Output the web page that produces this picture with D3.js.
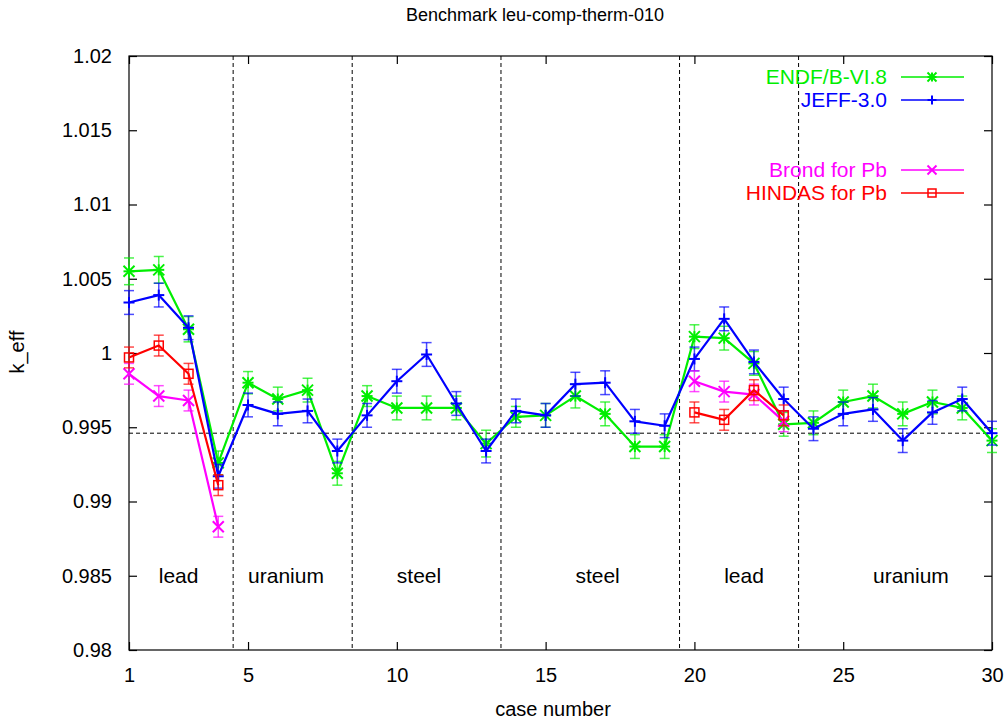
<!DOCTYPE html>
<html>
<head>
<meta charset="utf-8">
<script src="https://cdn.jsdelivr.net/npm/d3@7"></script>
<style>
  html, body { margin: 0; padding: 0; background: #fff; }
  svg { display: block; font-family: "Liberation Sans", Arial, Helvetica, sans-serif; }
</style>
</head>
<body>
<svg id="chart" width="1007" height="720"></svg>
<script>
// ---------------- data ----------------
const cases = [1,2,3,4,5,6,7,8,9,10,11,12,13,14,15,16,17,18,19,20,21,22,23,24,25,26,27,28,29,30];

const endfValues = [1.0055,1.0056,1.0016,0.9926,0.9980,0.9969,0.9975,0.9919,0.9971,0.9963,
                    0.9963,0.9963,0.9939,0.9957,0.9958,0.9971,0.9959,0.9937,0.9937,1.0011,
                    1.0010,0.9993,0.9952,0.9953,0.9967,0.9971,0.9959,0.9967,0.9963,0.9941];
const endfErrors = [0.0009,0.0009,0.00085,0.0008,0.00075,0.0008,0.0008,0.0008,0.0007,0.0008,
                    0.0008,0.0008,0.0009,0.0007,0.0008,0.0008,0.0008,0.0008,0.0008,0.0008,
                    0.0008,0.0008,0.0008,0.0008,0.0008,0.0008,0.0008,0.0008,0.0008,0.0008];

const jeffValues = [1.0034,1.0039,1.0017,0.9917,0.9965,0.9959,0.9961,0.9934,0.9958,0.9981,
                    0.9999,0.9966,0.9934,0.9961,0.9958,0.9979,0.9980,0.9954,0.9951,0.9996,
                    1.0023,0.9994,0.9969,0.9949,0.9959,0.9962,0.9941,0.9960,0.9969,0.9946];
const jeffErrors = [0.0008,0.0008,0.0008,0.0008,0.0008,0.0008,0.0008,0.0008,0.0008,0.0008,
                    0.0008,0.0008,0.0008,0.0008,0.0008,0.0008,0.0008,0.0008,0.0008,0.0008,
                    0.0008,0.0008,0.0008,0.0008,0.0008,0.0008,0.0008,0.0008,0.0008,0.0008];

// lead cases only (null = not computed)
const brondValues = [0.9986,0.9971,0.9968,0.9883,null,null,null,null,null,null,
                     null,null,null,null,null,null,null,null,null,0.9981,
                     0.9974,0.9972,0.9954,null,null,null,null,null,null,null];
const brondErrors = [0.0007,0.0007,0.0007,0.0007,null,null,null,null,null,null,
                     null,null,null,null,null,null,null,null,null,0.0007,
                     0.0007,0.0007,0.0007,null,null,null,null,null,null,null];

const hindasValues = [0.9997,1.0005,0.9986,0.9911,null,null,null,null,null,null,
                      null,null,null,null,null,null,null,null,null,0.9960,
                      0.9955,0.9975,0.9958,null,null,null,null,null,null,null];
const hindasErrors = [0.0007,0.0007,0.0007,0.0007,null,null,null,null,null,null,
                      null,null,null,null,null,null,null,null,null,0.0007,
                      0.0007,0.0007,0.0007,null,null,null,null,null,null,null];

const seriesNames = ["ENDF/B-VI.8", "JEFF-3.0", "Brond for Pb", "HINDAS for Pb"];

const xTicks = [1,5,10,15,20,25,30];
const yTicks = [0.98,0.985,0.99,0.995,1,1.005,1.01,1.015,1.02];
const yTickLabels = ["0.98","0.985","0.99","0.995","1","1.005","1.01","1.015","1.02"];

const benchmarkValue = 0.9946;
const groupBoundaries = [4.5, 8.5, 13.5, 19.5, 23.5];
const regionLabels = ["lead","uranium","steel","steel","lead","uranium"];
const regionLabelX = [2, 5, 10, 16, 21, 26];
const regionLabelY = 0.985;

const titleText = "Benchmark leu-comp-therm-010";
const xLabel = "case number";
const yLabel = "k_eff";

// ---------------- drawing ----------------
const svg = d3.select("#chart");
const L = 129, R = 992, T = 56, B = 650;
const x = d3.scaleLinear().domain([1,30]).range([L,R]);
const y = d3.scaleLinear().domain([0.98,1.02]).range([B,T]);

const FS = 20;

// frame
svg.append("rect").attr("x",L).attr("y",T).attr("width",R-L).attr("height",B-T)
  .attr("fill","none").attr("stroke","#000").attr("stroke-width",1.2);

// axes
const gL = svg.append("g").attr("transform",`translate(${L},0)`)
  .call(d3.axisLeft(y).tickValues(yTicks).tickFormat((d,i)=>yTickLabels[i]).tickSize(-8).tickPadding(17));
const gR = svg.append("g").attr("transform",`translate(${R},0)`)
  .call(d3.axisRight(y).tickValues(yTicks).tickFormat("").tickSize(-8));
const gB = svg.append("g").attr("transform",`translate(0,${B})`)
  .call(d3.axisBottom(x).tickValues(xTicks).tickFormat(d3.format("d")).tickSize(-8).tickPadding(18));
const gT = svg.append("g").attr("transform",`translate(0,${T})`)
  .call(d3.axisTop(x).tickValues(xTicks).tickFormat("").tickSize(-8));
[gL,gR,gB,gT].forEach(g=>{
  g.select(".domain").remove();
  g.selectAll(".tick line").attr("stroke","#000").attr("stroke-width",1.2);
  g.selectAll("text").attr("font-size",FS).attr("font-family","Liberation Sans, Arial, sans-serif").attr("fill","#000");
});

// dashed reference lines
svg.append("line").attr("x1",L).attr("x2",R).attr("y1",y(benchmarkValue)).attr("y2",y(benchmarkValue))
  .attr("stroke","#000").attr("stroke-width",1).attr("stroke-dasharray","4,3");
svg.selectAll(".vb").data(groupBoundaries).enter().append("line")
  .attr("x1",d=>x(d)).attr("x2",d=>x(d)).attr("y1",T).attr("y2",B)
  .attr("stroke","#000").attr("stroke-width",1).attr("stroke-dasharray","4,3");

// region labels
svg.selectAll(".rl").data(regionLabels).enter().append("text")
  .attr("x",(d,i)=>x(regionLabelX[i])).attr("y",y(regionLabelY))
  .attr("dy","0.35em").attr("font-size",FS+1).text(d=>d);

// series
const series = [
  {name:seriesNames[0], values:endfValues, errors:endfErrors, color:"#00ee00", marker:"star"},
  {name:seriesNames[1], values:jeffValues, errors:jeffErrors, color:"#0000ff", marker:"plus"},
  {name:seriesNames[2], values:brondValues, errors:brondErrors, color:"#ff00ff", marker:"cross"},
  {name:seriesNames[3], values:hindasValues, errors:hindasErrors, color:"#ff0000", marker:"square"},
];

function drawMarker(g, type, cx, cy, color, s) {
  const add = (x1,y1,x2,y2)=>g.append("line").attr("x1",x1).attr("y1",y1).attr("x2",x2).attr("y2",y2)
      .attr("stroke",color).attr("stroke-width",2);
  if (type==="star") { add(cx-s,cy,cx+s,cy); add(cx,cy-s,cx,cy+s); add(cx-s,cy-s,cx+s,cy+s); add(cx-s,cy+s,cx+s,cy-s); }
  else if (type==="plus") { add(cx-s,cy,cx+s,cy); add(cx,cy-s,cx,cy+s); }
  else if (type==="cross") { add(cx-s,cy-s,cx+s,cy+s); add(cx-s,cy+s,cx+s,cy-s); }
  else if (type==="square") { g.append("rect").attr("x",cx-s).attr("y",cy-s).attr("width",2*s).attr("height",2*s)
      .attr("fill","none").attr("stroke",color).attr("stroke-width",1.5); }
}

series.forEach(s=>{
  const g = svg.append("g");
  const pts = cases.map((c,i)=>({c, v:s.values[i], e:s.errors[i]}));
  const line = d3.line().defined(d=>d.v!==null).x(d=>x(d.c)).y(d=>y(d.v));
  // error bars
  pts.filter(d=>d.v!==null).forEach(d=>{
    const cx = x(d.c), y1 = y(d.v-d.e), y2 = y(d.v+d.e);
    g.append("line").attr("x1",cx).attr("x2",cx).attr("y1",y1).attr("y2",y2)
      .attr("stroke",s.color).attr("stroke-opacity",0.7).attr("stroke-width",1.5);
    [y1,y2].forEach(yy=>g.append("line").attr("x1",cx-5).attr("x2",cx+5).attr("y1",yy).attr("y2",yy)
      .attr("stroke",s.color).attr("stroke-opacity",0.7).attr("stroke-width",1.5));
  });
  g.append("path").datum(pts).attr("d",line).attr("fill","none")
    .attr("stroke",s.color).attr("stroke-width",2.2).attr("stroke-linejoin","round");
  pts.filter(d=>d.v!==null).forEach(d=>drawMarker(g, s.marker, x(d.c), y(d.v), s.color, s.marker==="square"?4.5:5.5));
});

// legend
const legRows = [77, 100, 170, 193];
series.forEach((s,i)=>{
  const g = svg.append("g");
  const yy = legRows[i];
  g.append("text").attr("x",887).attr("y",yy).attr("dy","0.35em").attr("text-anchor","end")
    .attr("font-size",FS+1).attr("fill",s.color).text(s.name);
  g.append("line").attr("x1",901).attr("x2",964).attr("y1",yy).attr("y2",yy)
    .attr("stroke",s.color).attr("stroke-width",1.3);
  drawMarker(g, s.marker, 932, yy, s.color, s.marker==="square"?4:4.5);
});

// titles
svg.append("text").attr("x",535).attr("y",21).attr("text-anchor","middle").attr("font-size",18).text(titleText);
svg.append("text").attr("x",553).attr("y",716).attr("text-anchor","middle").attr("font-size",FS).text(xLabel);
svg.append("text").attr("transform","translate(24,352) rotate(-90)").attr("text-anchor","middle")
  .attr("font-size",FS).text(yLabel);
</script>
</body>
</html>
